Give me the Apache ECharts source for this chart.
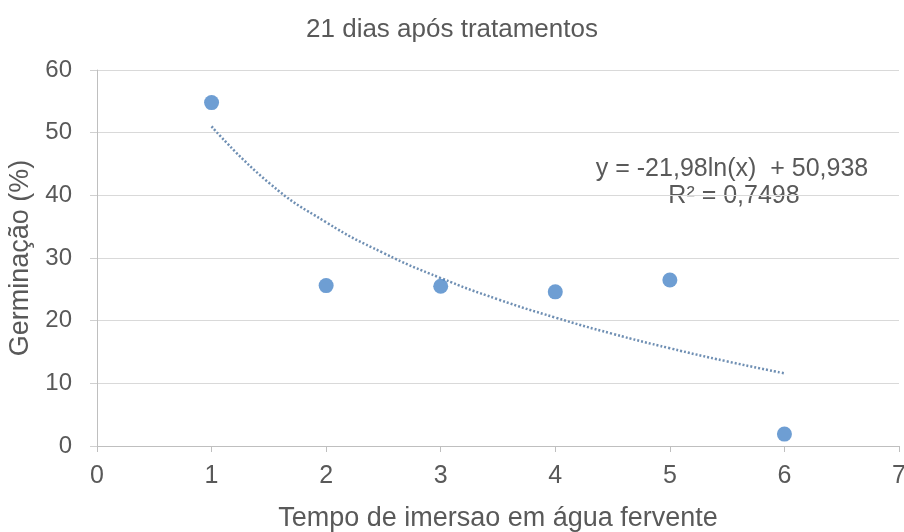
<!DOCTYPE html>
<html>
<head>
<meta charset="utf-8">
<script src="https://cdn.jsdelivr.net/npm/echarts@6/dist/echarts.min.js"></script>
<style>
  html, body { margin: 0; padding: 0; background: #fff; }
  #chart { width: 904px; height: 532px; }
</style>
</head>
<body>
<div id="chart"></div>
<script>
// pontos observados
const tempo = [1, 2, 3, 4, 5, 6]
const germinacao = [54.8, 25.6, 25.5, 24.6, 26.5, 1.9]

// linha de tendencia
const tendX = [1, 1.5, 2, 2.5, 3, 3.5, 4, 4.5, 5, 5.5, 6]
const tendY = [51, 42, 35.7, 30.8, 26.8, 23.4, 20.5, 17.9, 15.6, 13.5, 11.6]

const equacao = ["y = -21,98ln(x)  + 50,938", "R² = 0,7498"]

const fonte = "Liberation Sans, Arial, sans-serif"
const cinza = "#595959"

var myChart = echarts.init(document.getElementById('chart'))
var option = {
	animation: false,
	title: {
		text: "21 dias após tratamentos",
		left: "center",
		top: 12,
		textStyle: { color: cinza, fontSize: 26, fontWeight: "normal", fontFamily: fonte }
	},
	grid: { left: 97, right: 5, top: 70, bottom: 86, outerBoundsMode: "none", containLabel: false },
	xAxis: {
		type: "value",
		min: 0, max: 7, interval: 1,
		name: "Tempo de imersao em água fervente",
		nameLocation: "middle",
		nameGap: 59,
		nameTextStyle: { color: cinza, fontSize: 27, fontFamily: fonte },
		axisLine: { show: true, lineStyle: { color: "#bfbfbf" } },
		axisTick: { show: true, length: 6, lineStyle: { color: "#bfbfbf" } },
		axisLabel: { color: cinza, fontSize: 25, fontFamily: fonte, margin: 18 },
		splitLine: { show: false }
	},
	yAxis: {
		type: "value",
		min: 0, max: 60, interval: 10,
		name: "Germinação (%)",
		nameLocation: "middle",
		nameGap: 57,
		nameTextStyle: { color: cinza, fontSize: 27, fontFamily: fonte },
		axisLine: { show: true, lineStyle: { color: "#bfbfbf" } },
		axisTick: { show: true, length: 7, lineStyle: { color: "#d0d0d0" } },
		axisLabel: { color: cinza, fontSize: 24, fontFamily: fonte, margin: 25 },
		splitLine: { lineStyle: { color: "#d9d9d9" } }
	},
	series: [{
		type: "line",
		data: tendX.map((x, i) => [x, tendY[i]]),
		smooth: true,
		showSymbol: false,
		lineStyle: { color: "#6f8fb3", width: 2.5, type: [2, 2] },
		z: 2
	}, {
		type: "scatter",
		data: tempo.map((x, i) => [x, germinacao[i]]),
		symbolSize: 15,
		itemStyle: { color: "#4a86c8" },
		z: 3
	}],
	graphic: [{
		type: "text",
		x: 732, y: 157,
		style: { text: equacao[0], fill: cinza, fontSize: 25, fontFamily: fonte, align: "center", verticalAlign: "top" }
	}, {
		type: "text",
		x: 734, y: 184,
		style: { text: equacao[1], fill: cinza, fontSize: 25, fontFamily: fonte, align: "center", verticalAlign: "top" }
	}]
}
myChart.setOption(option)
</script>
</body>
</html>
